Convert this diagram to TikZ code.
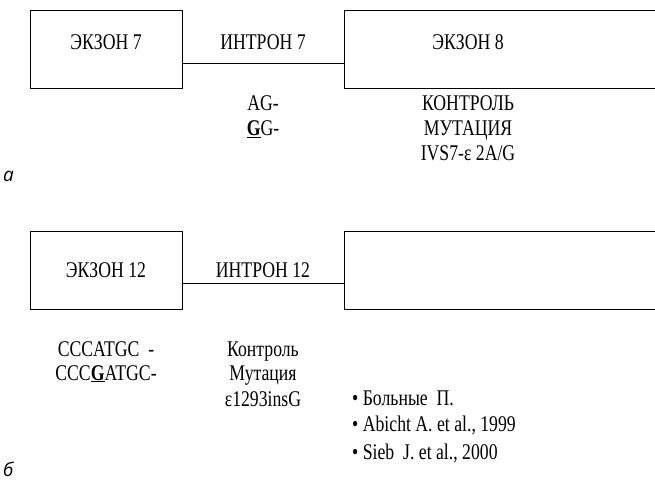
\documentclass[tikz,border=0pt]{standalone}
\usepackage{fontspec}
\setmainfont[FakeStretch=0.79]{Liberation Serif}
\newfontfamily\labfont{Open Sans}
\begin{document}
\begin{tikzpicture}[x=1bp,y=-1bp,
  exbox/.style={draw,line width=1.3bp,minimum width=152bp,minimum height=78bp,inner sep=0pt,anchor=north west},
  wide/.style={draw,line width=1.3bp,minimum width=330bp,minimum height=78bp,inner sep=0pt,anchor=north west},
  link/.style={line width=1.3bp},
  txt/.style={font=\fontsize{22.5}{25}\selectfont,inner sep=0pt,anchor=base},
  ref/.style={txt,anchor=base west},
  panel/.style={font=\labfont\itshape\fontsize{19}{22}\selectfont,inner sep=0pt,anchor=base west}]
\useasboundingbox (0,0) rectangle (655,482);
\clip (0,0) rectangle (655,482);
% panel a
\node[exbox] (e7) at (30,10) {};
\node[wide] (e8) at (344,10) {};
\draw[link] ([yshift=26bp]e7.south east) -- ([yshift=26bp]e8.south west);
\node[txt] (te7) at (106,50) {ЭКЗОН 7};
\node[txt] (ti7) at (263,50) {ИНТРОН 7};
\node[txt] (te8) at (468,50) {ЭКЗОН 8};
\node[txt] (sa1) at (263,111) {AG-};
\node[txt] (sa2) at (263,136) {\underline{\textbf{G}}G-};
\node[txt] (ma1) at (468,111) {КОНТРОЛЬ};
\node[txt] (ma2) at (468,136) {МУТАЦИЯ};
\node[txt] (ma3) at (468,161) {IVS7-ε 2A/G};
\node[panel] (la) at (3,182) {а};
% panel b
\node[exbox] (e12) at (30,231) {};
\node[wide] (e13) at (344,231) {};
\draw[link] ([yshift=27bp]e12.south east) -- ([yshift=27bp]e13.south west);
\node[txt] (te12) at (106,277) {ЭКЗОН 12};
\node[txt] (ti12) at (263,277) {ИНТРОН 12};
\node[txt] (sb1) at (106,356) {CCCATGC\ \ -};
\node[txt] (sb2) at (106,380) {CCC\underline{\textbf{G}}ATGC-};
\node[txt] (mb1) at (263,356) {Контроль};
\node[txt] (mb2) at (263,380) {Мутация};
\node[txt] (mb3) at (263,406) {ε1293insG};
\node[ref] (r1) at (352,405) {\textbullet\ Больные\ \ П.};
\node[ref] (r2) at (352,431) {\textbullet\ Abicht\ A. et al., 1999};
\node[ref] (r3) at (352,459) {\textbullet\ Sieb\ \ J. et al., 2000};
\node[panel] (lb) at (3,476) {б};
\end{tikzpicture}
\end{document}
